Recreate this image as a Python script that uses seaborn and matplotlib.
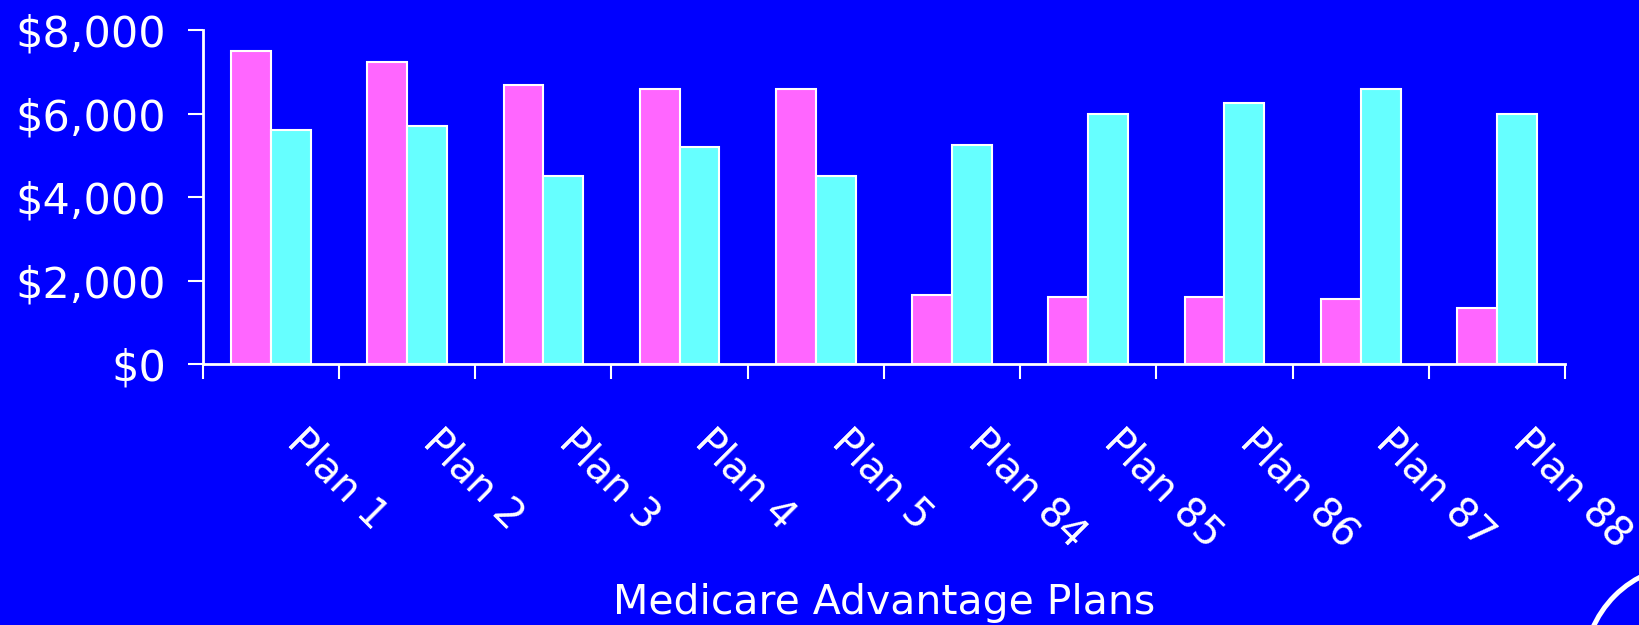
import numpy as np
import pandas as pd
import matplotlib
matplotlib.use('Agg')
import matplotlib.pyplot as plt
import matplotlib.ticker as mticker
from matplotlib.transforms import ScaledTranslation
from matplotlib.patches import Ellipse
import seaborn as sns

# Chart data
plans = ['Plan 1', 'Plan 2', 'Plan 3', 'Plan 4', 'Plan 5',
         'Plan 84', 'Plan 85', 'Plan 86', 'Plan 87', 'Plan 88']
series_a = [7500, 7250, 6700, 6600, 6600, 1650, 1600, 1600, 1550, 1350]
series_b = [5600, 5700, 4500, 5200, 4500, 5250, 6000, 6250, 6600, 6000]
series_names = ['A', 'B']
y_ticks = [0, 2000, 4000, 6000, 8000]

bg = '#0000FF'
colors = ['#FF66FF', '#66FFFF']

df = pd.DataFrame({
    'plan': plans * 2,
    'cost': series_a + series_b,
    'series': [series_names[0]] * len(plans) + [series_names[1]] * len(plans),
})

sns.set_theme(style='white')
plt.rcParams['font.family'] = ['DejaVu Sans']

fig = plt.figure(figsize=(16.39, 6.25), dpi=100, facecolor=bg)
ax = fig.add_axes([0.1237, 0.4176, 0.8312, 0.5339], facecolor=bg)

sns.barplot(data=df, x='plan', y='cost', hue='series', palette=colors,
            saturation=1, width=0.584, edgecolor='white', linewidth=1.5,
            legend=False, ax=ax, errorbar=None)

# Axes styling
ax.set_xlim(-0.5, len(plans) - 0.5)
ax.set_ylim(0, 8000)
for s in ['top', 'right']:
    ax.spines[s].set_visible(False)
for s in ['left', 'bottom']:
    ax.spines[s].set_color('white')
    ax.spines[s].set_linewidth(2)

ax.set_yticks(y_ticks)
ax.yaxis.set_major_formatter(mticker.StrMethodFormatter('${x:,.0f}'))
ax.tick_params(axis='y', colors='white', labelsize=31, length=10.5, width=1.5,
               direction='out', pad=16, left=True)

# Tick marks at category boundaries, labels at category centers
ax.set_xticks(np.arange(-0.5, len(plans), 1))
ax.set_xticklabels([])
ax.set_xticks(np.arange(len(plans)), minor=True)
ax.set_xticklabels(plans, minor=True, rotation=-45, ha='left', va='top',
                   rotation_mode='anchor', fontsize=29, color='white')
ax.tick_params(axis='x', which='major', colors='white', length=10.5, width=1.5,
               direction='out', bottom=True)
ax.tick_params(axis='x', which='minor', length=0, pad=0, bottom=True)
offset = ScaledTranslation(0.36, -0.58, fig.dpi_scale_trans)
for lbl in ax.get_xticklabels(minor=True):
    lbl.set_transform(lbl.get_transform() + offset)

ax.set_ylabel('')
ax.set_xlabel('Medicare Advantage Plans', fontsize=29.5, color='white', va='center')
ax.xaxis.set_label_coords(0.5, -0.716)

# Decorative arc in the bottom-right corner
ring = Ellipse((1689 / 1639, 1 - 670 / 625), 210 / 1639, 210 / 625,
               transform=fig.transFigure, fill=False, edgecolor='white',
               linewidth=3.6, clip_on=False)
fig.patches.append(ring)

fig.savefig('out.png', dpi=100, facecolor=bg)
